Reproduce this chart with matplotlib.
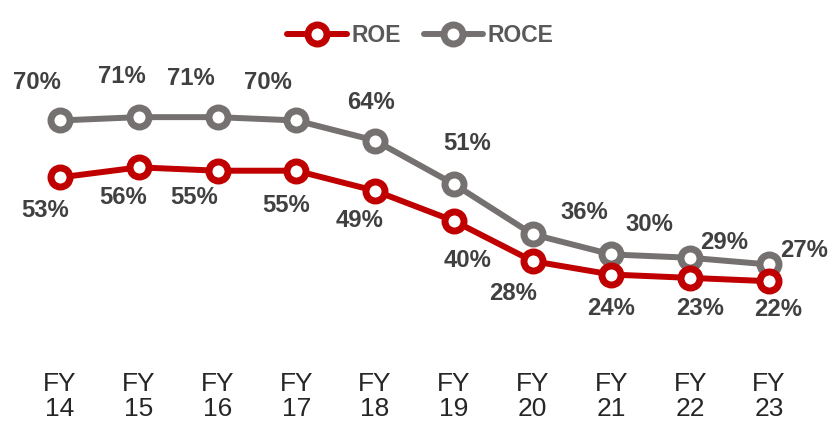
import matplotlib.pyplot as plt

years = ["FY\n14", "FY\n15", "FY\n16", "FY\n17", "FY\n18",
         "FY\n19", "FY\n20", "FY\n21", "FY\n22", "FY\n23"]
roe = [53, 56, 55, 55, 49, 40, 28, 24, 23, 22]
roce = [70, 71, 71, 70, 64, 51, 36, 30, 29, 27]

# label offsets in pixels (dx, dy), hand-placed like the original
roe_offsets = [(-15, -33), (-16, -30), (-23, -27), (-10, -35), (-16, -30),
               (14, -40), (-20, -32), (0, -34), (10, -31), (9, -28)]
roce_offsets = [(-23, 38), (-17, 41), (-27, 39), (-28, 38), (-4, 38),
                (13, 41), (52, 22), (38, 30), (34, 15), (35, 14)]

red = "#C00000"
grey = "#767171"
label_color = "#404040"

fig = plt.figure(figsize=(8.29, 4.23), dpi=100)
ax = fig.add_axes([0.0249, 0.161, 0.9502, 0.7125])

x = list(range(len(years)))
style = dict(marker="o", markersize=13.7, markerfacecolor="white",
             markeredgewidth=5, linewidth=4.3, solid_capstyle="round")
ax.plot(x, roe, color=red, markeredgecolor=red, label="ROE", zorder=3, **style)
ax.plot(x, roce, color=grey, markeredgecolor=grey, label="ROCE", zorder=2, **style)

for xi, v, off in zip(x, roe, roe_offsets):
    ax.annotate(f"{v}%", (xi, v), xytext=off, textcoords="offset pixels",
                ha="center", va="center", fontsize=17.2, fontweight="bold",
                color=label_color, family="Liberation Sans")
for xi, v, off in zip(x, roce, roce_offsets):
    ax.annotate(f"{v}%", (xi, v), xytext=off, textcoords="offset pixels",
                ha="center", va="center", fontsize=17.2, fontweight="bold",
                color=label_color, family="Liberation Sans")

ax.set_xlim(-0.5, len(years) - 0.5)
ax.set_ylim(0, 90)
ax.set_xticks(x)
ax.set_xticklabels(years, family="Liberation Sans",
                   fontsize=19, color="#262626", linespacing=1.1)
ax.tick_params(axis="x", length=0, pad=12)
ax.set_yticks([])
for s in ax.spines.values():
    s.set_visible(False)

fig.legend(loc="center", bbox_to_anchor=(0.507, 0.917), ncol=2, frameon=False,
           handlelength=2.6, columnspacing=1.0, handletextpad=0.2,
           prop={"family": "Liberation Sans", "weight": "bold", "size": 16.5},
           labelcolor="#595959")

fig.savefig("out.png", dpi=100)
